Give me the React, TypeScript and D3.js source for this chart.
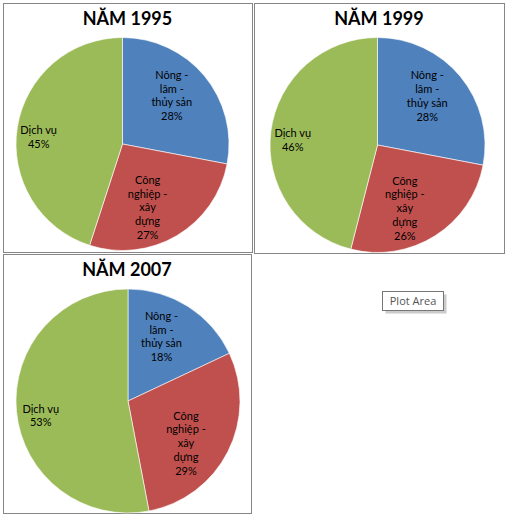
import * as d3 from "d3";
import { useEffect, useRef } from "react";

// categories (clockwise from 12 o'clock)
const categories = ["Nông - lâm - thủy sản", "Công nghiệp - xây dựng", "Dịch vụ"];
const categoryLines = [["Nông -", "lâm -", "thủy sản"], ["Công", "nghiệp -", "xây", "dựng"], ["Dịch vụ"]];
const colors = ["#4f81bd", "#c0504d", "#9bbb59"];

const titles = ["NĂM 1995", "NĂM 1999", "NĂM 2007"];
const values1995 = [28, 27, 45];
const values1999 = [28, 26, 46];
const values2007 = [18, 29, 53];

// panel frames and pie placement
const panels = [
  { values: values1995, x: 3, y: 3, w: 249, h: 249, cx: 122.5, cy: 144, r: 106.5 },
  { values: values1999, x: 254, y: 3, w: 250, h: 250, cx: 377.5, cy: 145, r: 107.5 },
  { values: values2007, x: 3, y: 254, w: 248, h: 259, cx: 128, cy: 401, r: 112 },
];
// data label placement: fraction of radius, and nudge (degrees) off the mid-angle
const labelK = [0.65, 0.64, 0.79];
const labelNudge = [-5, 9, -4];

export default function App() {
  const ref = useRef<SVGSVGElement>(null);

  useEffect(() => {
    if (!ref.current) return;
    const svg = d3.select(ref.current);
    svg.selectAll("*").remove();

    const pie = d3
      .pie<number>()
      .value(d => d)
      .sort(null);

    panels.forEach((p, pi) => {
      const g = svg.append("g");
      g.append("rect")
        .attr("x", p.x + 0.5)
        .attr("y", p.y + 0.5)
        .attr("width", p.w)
        .attr("height", p.h)
        .attr("fill", "#fff")
        .attr("stroke", "#868686")
        .attr("stroke-width", 1);

      g.append("text")
        .attr("x", p.x + p.w / 2)
        .attr("y", p.y + 22)
        .attr("text-anchor", "middle")
        .attr("font-family", "Lato, 'Open Sans', sans-serif")
        .attr("font-weight", 700)
        .attr("font-size", 18)
        .attr("fill", "#000")
        .text(titles[pi]);

      const arc = d3.arc<d3.PieArcDatum<number>>().innerRadius(0).outerRadius(p.r);
      const arcs = pie(p.values);
      const pg = g.append("g").attr("transform", `translate(${p.cx},${p.cy})`);
      pg.selectAll("path")
        .data(arcs)
        .join("path")
        .attr("d", arc)
        .attr("fill", (_, i) => colors[i])
        .attr("stroke", "#fff")
        .attr("stroke-width", 0.6);

      arcs.forEach((a, i) => {
        const k = labelK[i] * p.r;
        const mid = (a.startAngle + a.endAngle) / 2 + (labelNudge[i] * Math.PI) / 180;
        const lx = Math.sin(mid) * k;
        const ly = -Math.cos(mid) * k;
        const lines = [...categoryLines[i], `${p.values[i]}%`];
        const lh = 13.7;
        const t = pg
          .append("text")
          .attr("text-anchor", "middle")
          .attr("font-family", "Lato, 'Open Sans', sans-serif")
          .attr("font-size", 11)
          .attr("fill", "#000");
        lines.forEach((ln, j) => {
          t.append("tspan")
            .attr("x", lx)
            .attr("y", ly + (j - (lines.length - 1) / 2) * lh + 4)
            .text(ln);
        });
      });
    });

    // "Plot Area" tooltip
    const tip = svg.append("g").attr("transform", "translate(382.5,291.5)");
    tip.append("rect").attr("x", 3).attr("y", 3).attr("width", 61).attr("height", 19).attr("fill", "#a8a8a8").attr("opacity", 0.6);
    tip.append("rect").attr("width", 61).attr("height", 19).attr("fill", "#fff").attr("stroke", "#767676");
    tip.append("text")
      .attr("x", 30.5)
      .attr("y", 13.5)
      .attr("text-anchor", "middle")
      .attr("font-family", "'Open Sans', 'Noto Sans', sans-serif")
      .attr("font-size", 11)
      .attr("fill", "#555")
      .text("Plot Area");
  }, []);

  return (
    <svg
      ref={ref}
      width={506}
      height={523}
      style={{ position: "absolute", left: 0, top: 0, background: "#fff", display: "block" }}
    >
      <title>{categories.join(", ")}</title>
    </svg>
  );
}
